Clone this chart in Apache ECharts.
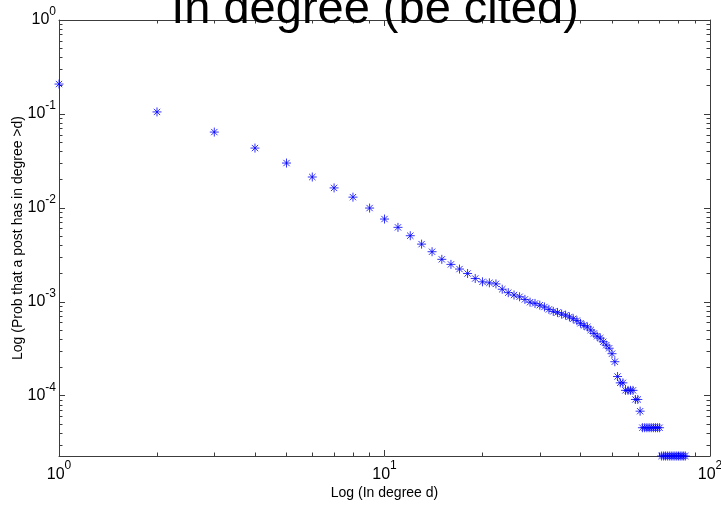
<!DOCTYPE html>
<html>
<head>
<meta charset="utf-8">
<script src="https://cdn.jsdelivr.net/npm/echarts@6/dist/echarts.min.js"></script>
<style>html,body{margin:0;padding:0;background:#fff}#c{width:721px;height:507px}</style>
</head>
<body>
<div id="c"></div>
<script>
// ---- data ----
const titleText = 'In degree (be cited)';
const xName = 'Log (In degree d)';
const yName = 'Log (Prob that a post has in degree >d)';
const degree = [1,2,3,4,5,6,7,8,9,10,11,12,13,14,15,16,17,18,19,20,
  21,22,23,24,25,26,27,28,29,30,31,32,33,34,35,36,37,38,39,40,
  41,42,43,44,45,46,47,48,49,50,51,52,53,54,55,56,57,58,59,60,
  61,62,63,64,65,66,67,68,69,70,71,72,73,74,75,76,77,78,79,80,
  81,82,83,84];
const prob = [0.208,0.105,0.0641,0.0433,0.0300,0.0213,0.0163,0.0130,0.00995,0.0076,
  0.0062,0.00505,0.00411,0.00341,0.00283,0.00250,0.00223,0.00200,0.00177,0.00163,
  0.00159,0.00155,0.00136,0.00125,0.00118,0.00113,0.00106,0.00099,0.00096,0.00092,
  0.00088,0.00083,0.00079,0.00077,0.00074,0.00072,0.00069,0.00066,0.00063,0.00059,
  0.00056,0.00054,0.00050,0.00046,0.00043,0.00041,0.000375,0.000345,0.00032,0.00028,
  0.00023,0.00016,0.000137,0.000137,0.000114,0.000114,0.000114,0.000114,0.0000912,0.0000912,
  0.0000684,0.0000456,0.0000456,0.0000456,0.0000456,0.0000456,0.0000456,0.0000456,0.0000456,0.0000456,
  0.0000228,0.0000228,0.0000228,0.0000228,0.0000228,0.0000228,0.0000228,0.0000228,0.0000228,0.0000228,
  0.0000228,0.0000228,0.0000228,0.0000228];
const xRange = [1, 100];
const yRange = [0.0000228, 1];
const xMajor = [1, 10, 100];
const xMinor = [2,3,4,5,6,7,8,9,20,30,40,50,60,70,80,90];
const yMajor = [0.0001, 0.001, 0.01, 0.1, 1];
const yMinor = [0.00003,0.00004,0.00005,0.00006,0.00007,0.00008,0.00009,
  0.0002,0.0003,0.0004,0.0005,0.0006,0.0007,0.0008,0.0009,
  0.002,0.003,0.004,0.005,0.006,0.007,0.008,0.009,
  0.02,0.03,0.04,0.05,0.06,0.07,0.08,0.09,
  0.2,0.3,0.4,0.5,0.6,0.7,0.8,0.9];

const FONT = '"Liberation Sans", Arial, sans-serif';
const LINE = '#3c3c3c';

function expLabel(v) {
  const e = Math.round(Math.log10(v));
  return '{b|10}{s|' + e + '}';
}
const richLab = {
  b: { fontSize: 16, fontFamily: FONT, color: '#000' },
  s: { fontSize: 12, fontFamily: FONT, color: '#000', padding: [0, 0, 17, 0] }
};

function axis(kind, pos, major, withLabel, extra) {
  const range = kind === 'x' ? xRange : yRange;
  const ticks = major ? (kind === 'x' ? xMajor : yMajor) : (kind === 'x' ? xMinor : yMinor);
  const a = {
    type: 'log', logBase: 10, min: range[0], max: range[1], position: pos,
    axisLine: { show: major, lineStyle: { color: LINE, width: 1 } },
    axisTick: { show: true, inside: true, length: major ? 6 : 3.5, customValues: ticks,
      lineStyle: { color: LINE, width: 1 } },
    axisLabel: withLabel ? { show: true, customValues: ticks,
      formatter: expLabel, rich: richLab, margin: kind === 'x' ? 4 : 3 } : { show: false },
    splitLine: { show: false },
    minorTick: { show: false },
    minorSplitLine: { show: false }
  };
  return Object.assign(a, extra || {});
}

const chart = echarts.init(document.getElementById('c'), null, { renderer: 'canvas' });
chart.setOption({
  animation: false,
  backgroundColor: '#ffffff',
  title: {
    text: titleText, left: 370, top: -18, textAlign: 'center',
    textStyle: { fontSize: 47, fontWeight: 'normal', fontFamily: FONT, color: '#000' }
  },
  grid: { left: 59, right: 11, top: 20, bottom: 51, containLabel: false, outerBoundsMode: 'none' },
  xAxis: [
    axis('x', 'bottom', true, true, { name: xName, nameLocation: 'middle', nameGap: 30, nameMoveOverlap: false,
      nameTextStyle: { fontSize: 14, fontFamily: FONT, color: '#000' } }),
    axis('x', 'bottom', false, false),
    axis('x', 'top', true, false),
    axis('x', 'top', false, false)
  ],
  yAxis: [
    axis('y', 'left', true, true, { name: yName, nameLocation: 'middle', nameGap: 34, nameRotate: 90, nameMoveOverlap: false,
      nameTextStyle: { fontSize: 14, fontFamily: FONT, color: '#000' } }),
    axis('y', 'left', false, false),
    axis('y', 'right', true, false),
    axis('y', 'right', false, false)
  ],
  series: [{
    type: 'scatter', xAxisIndex: 0, yAxisIndex: 0, clip: false,
    symbol: 'path://M0 5H10M5 0V10M1.5 1.5L8.5 8.5M8.5 1.5L1.5 8.5',
    symbolSize: 9,
    itemStyle: { color: 'rgba(0,0,0,0)', borderColor: '#0000ff', borderWidth: 1 },
    data: degree.map((d, i) => [d, prob[i]])
  }]
});
</script>
</body>
</html>
